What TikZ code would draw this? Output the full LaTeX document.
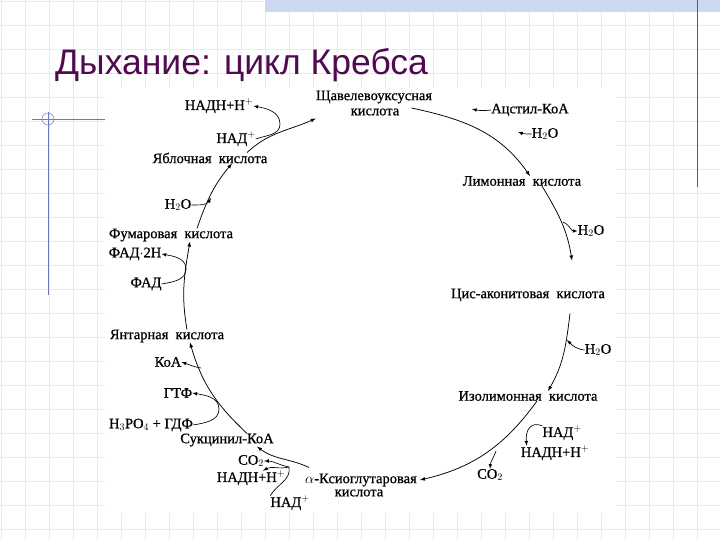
\documentclass[tikz,border=0pt]{standalone}
\usepackage{fontspec}
\setmainfont{Liberation Serif}
\newfontfamily\lblfont[FakeBold=0.7]{Liberation Serif}
\newfontfamily\titlefont{Liberation Sans}
\usepackage{tikz}
\usetikzlibrary{positioning,calc}
\definecolor{titlecol}{RGB}{80,10,80}
\definecolor{gridcol}{RGB}{234,234,234}
\definecolor{barcol}{RGB}{205,216,242}
\definecolor{decocol}{RGB}{110,120,190}
\definecolor{linecol}{RGB}{80,90,140}

\tikzset{
  lbl/.style={inner sep=0pt, font=\lblfont\fontsize{14.5}{16}\selectfont},
  cyc/.style={-latex, line width=0.75pt},
  side/.style={-latex, line width=0.65pt},
}

\begin{document}
\begin{tikzpicture}[x=1pt,y=1pt]
    \useasboundingbox (0,0) rectangle (720,540);
    % slide background
    \fill[white] (0,0) rectangle (720,540);
    \foreach \i in {0,...,29} \draw[gridcol, line width=0.8pt] (1+24*\i,0) -- (1+24*\i,540);
    \foreach \j in {0,...,22} \draw[gridcol, line width=0.8pt] (0,539-24*\j) -- (720,539-24*\j);
    \fill[barcol] (265,528) rectangle (720,540);
    \draw[linecol, line width=1pt] (697,540) -- (697,353);
    \draw[decocol, line width=0.8pt] (32,421) -- (105,421);
    \draw[decocol, line width=0.8pt] (48,428) -- (48,245);
    \draw[decocol, line width=0.5pt] (48,421) circle (6);
    \fill[white] (105,27) rectangle (616,452);

    \node[anchor=base west, text=titlecol, inner sep=0pt,
          font=\titlefont\fontsize{35.5}{40}\selectfont] (title) at (55,465) {Дыхание: цикл Кребса};

    \node[lbl] (oxal) at (374,443) {Щавелевоуксусная};
    \node[lbl] (oxal2) at (375,428) {кислота};
    \node[lbl] (acet) at (530,430) {Ацстил-КоА};
    \node[lbl] (wat1) at (545,406) {H$_2$O};
    \node[lbl] (cit) at (522,359) {Лимонная\ \ кислота};
    \node[lbl] (wat2) at (591,309) {H$_2$O};
    \node[lbl] (cis) at (528,245) {Цис-аконитовая\ \ кислота};
    \node[lbl] (wat3) at (598,190) {H$_2$O};
    \node[lbl] (iso) at (528,144) {Изолимонная\ \ кислота};
    \node[lbl] (nad1) at (562,107) {НАД$^+$};
    \node[lbl] (nadh1) at (555,87) {НАДН+Н$^+$};
    \node[lbl] (co1) at (490,65) {CO$_2$};
    \node[lbl] (akg) at (361,60) {$\alpha$-Ксиоглутаровая};
    \node[lbl] (akg2) at (359,47) {кислота};
    \node[lbl] (nad2) at (290,37) {НАД$^+$};
    \node[lbl] (nadh2) at (251,62) {НАДН+Н$^+$};
    \node[lbl] (co2) at (251,79) {CO$_2$};
    \node[lbl] (sca) at (227,100) {Сукцинил-КоА};
    \node[lbl] (phos) at (151,115) {H$_3$PO$_4$ + ГДФ};
    \node[lbl] (gtf) at (178,147) {ГТФ};
    \node[lbl] (coa) at (168,178) {КоА};
    \node[lbl] (succ) at (167,204) {Янтарная\ \ кислота};
    \node[lbl] (fad) at (146,256) {ФАД};
    \node[lbl] (fadh) at (135,286) {ФАД$\cdot$2Н};
    \node[lbl] (fum) at (171,305) {Фумаровая\ \ кислота};
    \node[lbl] (wat4) at (178,335) {H$_2$O};
    \node[lbl] (mal) at (210,382) {Яблочная\ \ кислота};
    \node[lbl] (nad3) at (236,401) {НАД$^+$};
    \node[lbl] (nadh3) at (219,434) {НАДН+Н$^+$};

    \coordinate (j1) at (563,318);
    \coordinate (j2) at (567,200);
    \coordinate (j3) at (496,89);
    \coordinate (j4) at (289,73);
    \coordinate (j5) at (201,172);
    \coordinate (j6) at (219,131);
    \coordinate (j7) at (186,271);
    \coordinate (j8) at (211,342);
    \coordinate (j9) at (280,416);
    \coordinate (t1) at (472,431);
    \coordinate (t2) at (518,408);

    % the cycle
    \draw[cyc] ([xshift=12pt,yshift=4pt]oxal2.east) to[out=-12,in=125] ([xshift=8pt]cit.north);
    \draw[cyc] ([xshift=20pt]cit.south) to[out=-59,in=99] ([xshift=44pt,yshift=28pt]cis.north);
    \draw[cyc] ([xshift=42pt,yshift=-12pt]cis.south) to[out=-97,in=60] ([xshift=20pt]iso.north);
    \draw[cyc] ([xshift=9pt]iso.south) to[out=-126,in=13] ([xshift=3pt]akg.east);
    \draw[cyc] ([xshift=4pt,yshift=6pt]akg.north west) to[out=155,in=-37] ([xshift=30pt]sca.south);
    \draw[cyc] ([xshift=20pt]sca.north) to[out=137,in=-74] ([xshift=23pt]succ.south);
    \draw[cyc] ([xshift=20pt]succ.north) to[out=100,in=-100] ([xshift=19pt]fum.south);
    \draw[cyc] ([xshift=26pt]fum.north) to[out=71,in=-130] ([xshift=22pt]mal.south);
    \draw[cyc] ([xshift=37pt]mal.north) to[out=43,in=-156] ([yshift=-15pt]oxal.south west);

    % side reactions
    \draw[side] (acet.west) to[bend left=10] (t1);
    \draw[side] (wat1.west) to[bend left=10] (t2);
    \draw[side] (j1) to[out=-20,in=180] (wat2.west);
    \draw[side] (wat3.west) to[out=175,in=-45] (j2);
    \draw[side] (nad1.north west) to[out=160,in=95,looseness=1.4] ([xshift=6pt]nadh1.north west);
    \draw[side] (j3) to[out=-110,in=85] (co1.north);
    \draw[line width=0.65pt] (nad2.north west) to[out=60,in=-80] (j4);
    \draw[side] (j4) to[out=170,in=0] (co2.east);
    \draw[side] (j4) to[out=-165,in=30] ([xshift=12pt]nadh2.north);
    \draw[side] (j5) to[out=170,in=-20] (coa.east);
    \draw[side] (phos.east) to[out=10,in=-90] (j6) to[out=90,in=-10] (gtf.east);
    \draw[side] (fad.east) to[out=10,in=-90] (j7) to[out=90,in=-10] (fadh.east);
    \draw[side] (wat4.east) to[out=0,in=-120] (j8);
    \draw[side] (nad3.east) to[out=20,in=-90] (j9) to[out=90,in=-10] (nadh3.east);
\end{tikzpicture}
\end{document}
